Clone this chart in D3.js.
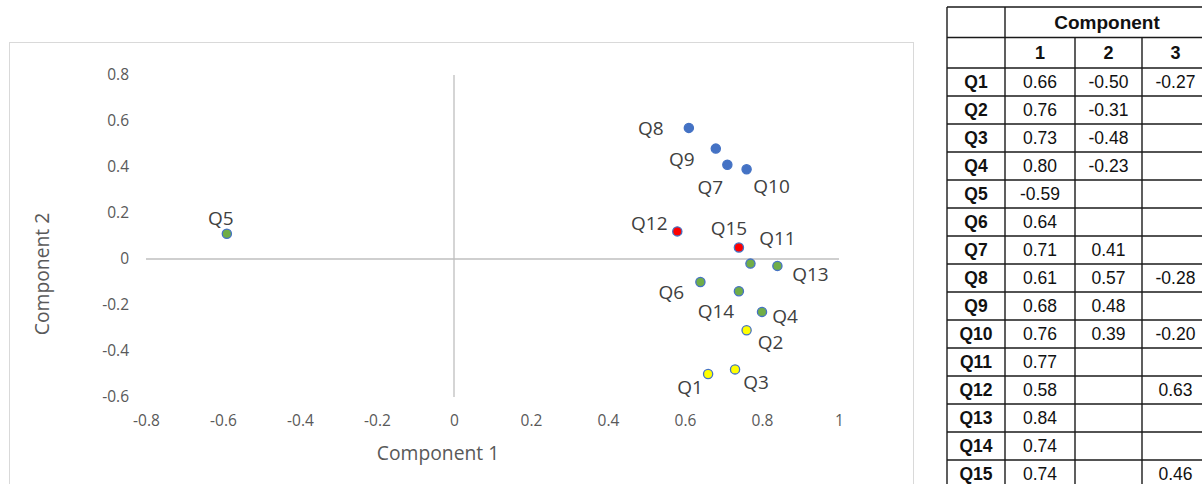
<!DOCTYPE html>
<html>
<head>
<meta charset="utf-8">
<script src="https://cdn.jsdelivr.net/npm/d3@7"></script>
<style>
  body { margin: 0; background: #fff; }
  svg { display: block; }
</style>
</head>
<body>
<svg id="chart" width="1202" height="484"></svg>
<script>
// points on the plot (component 1, component 2)
const names = ["Q1", "Q2", "Q3", "Q4", "Q5", "Q6", "Q7", "Q8", "Q9", "Q10", "Q11", "Q12", "Q13", "Q14", "Q15"];
const comp1 = [0.66, 0.76, 0.73, 0.80, -0.59, 0.64, 0.71, 0.61, 0.68, 0.76, 0.77, 0.58, 0.84, 0.74, 0.74];
const comp2 = [-0.50, -0.31, -0.48, -0.23, 0.11, -0.10, 0.41, 0.57, 0.48, 0.39, -0.02, 0.12, -0.03, -0.14, 0.05];
const groups = ["yellow", "yellow", "yellow", "green", "green", "green", "blue", "blue", "blue", "blue", "green", "red", "green", "green", "red"];

const xTicks = [-0.8, -0.6, -0.4, -0.2, 0, 0.2, 0.4, 0.6, 0.8, 1];
const yTicks = [-0.6, -0.4, -0.2, 0, 0.2, 0.4, 0.6, 0.8];

// loadings table
const tableHead = ["", "1", "2", "3"];
const tableRows = [
  ["Q1", "0.66", "-0.50", "-0.27"],
  ["Q2", "0.76", "-0.31", ""],
  ["Q3", "0.73", "-0.48", ""],
  ["Q4", "0.80", "-0.23", ""],
  ["Q5", "-0.59", "", ""],
  ["Q6", "0.64", "", ""],
  ["Q7", "0.71", "0.41", ""],
  ["Q8", "0.61", "0.57", "-0.28"],
  ["Q9", "0.68", "0.48", ""],
  ["Q10", "0.76", "0.39", "-0.20"],
  ["Q11", "0.77", "", ""],
  ["Q12", "0.58", "", "0.63"],
  ["Q13", "0.84", "", ""],
  ["Q14", "0.74", "", ""],
  ["Q15", "0.74", "", "0.46"]
];

const fills = { blue: "#4472C4", green: "#70AD47", yellow: "#FFFF00", red: "#FF0000" };

// where each data label sits relative to its marker
const labelOffset = {
  Q1: [-18, 13], Q2: [24, 12], Q3: [21, 13], Q4: [23, 4], Q5: [-6, -16],
  Q6: [-29, 10], Q7: [-17, 22], Q8: [-38, 0], Q9: [-34, 11], Q10: [25, 17],
  Q11: [27, -25], Q12: [-28, -8], Q13: [33, 8], Q14: [-23, 20], Q15: [-10, -19]
};

const points = names.map((n, i) => ({ name: n, c1: comp1[i], c2: comp2[i], group: groups[i] }));

const svg = d3.select("#chart");
const font = "'Open Sans', sans-serif";

// chart frame
svg.append("rect")
  .attr("x", 9.5).attr("y", 42.5)
  .attr("width", 904).attr("height", 460)
  .attr("fill", "none")
  .attr("stroke", "#d9d9d9");

const x = d3.scaleLinear().domain([-0.8, 1]).range([146, 839]);
const y = d3.scaleLinear().domain([-0.6, 0.8]).range([397, 75]);

const fmt = d => d === 0 ? "0" : String(+d.toFixed(1));

// Y axis labels
svg.append("g")
  .attr("transform", `translate(${x(-0.8)},0)`)
  .call(d3.axisLeft(y).tickValues(yTicks).tickFormat(fmt).tickSize(0).tickPadding(17))
  .call(g => g.select(".domain").remove())
  .selectAll("text")
  .style("font-family", font)
  .style("font-size", "15.5px")
  .attr("fill", "#595959");

// X axis labels
svg.append("g")
  .attr("transform", `translate(0,${y(-0.6)})`)
  .call(d3.axisBottom(x).tickValues(xTicks).tickFormat(fmt).tickSize(0).tickPadding(18))
  .call(g => g.select(".domain").remove())
  .selectAll("text")
  .style("font-family", font)
  .style("font-size", "15.5px")
  .attr("fill", "#595959");

// zero lines
svg.append("line")
  .attr("x1", x(-0.8)).attr("x2", x(1))
  .attr("y1", y(0)).attr("y2", y(0))
  .attr("stroke", "#bfbfbf").attr("stroke-width", 1.3);

svg.append("line")
  .attr("x1", x(0)).attr("x2", x(0))
  .attr("y1", y(0.8)).attr("y2", y(-0.6))
  .attr("stroke", "#bfbfbf").attr("stroke-width", 1.3);

// axis titles
svg.append("text")
  .attr("x", 438).attr("y", 460)
  .attr("text-anchor", "middle")
  .style("font-family", font).style("font-size", "19.3px")
  .attr("fill", "#595959")
  .text("Component 1");

svg.append("text")
  .attr("transform", "translate(49,274) rotate(-90)")
  .attr("text-anchor", "middle")
  .style("font-family", font).style("font-size", "19.3px")
  .attr("fill", "#595959")
  .text("Component 2");

// markers
svg.append("g")
  .selectAll("circle")
  .data(points)
  .join("circle")
  .attr("cx", d => x(d.c1))
  .attr("cy", d => y(d.c2))
  .attr("r", 4.6)
  .attr("fill", d => fills[d.group])
  .attr("stroke", "#4472C4")
  .attr("stroke-width", 1.3);

// data labels
svg.append("g")
  .selectAll("text")
  .data(points)
  .join("text")
  .attr("x", d => x(d.c1) + labelOffset[d.name][0])
  .attr("y", d => y(d.c2) + labelOffset[d.name][1])
  .attr("dy", "0.36em")
  .attr("text-anchor", "middle")
  .style("font-family", font).style("font-size", "19px")
  .attr("fill", "#404040")
  .text(d => d.name);

// table
const colEdges = [947, 1005, 1075, 1142, 1209];
const headH = 30.5, rowH = 28.0, tableTop = 7;
const rowEdges = [tableTop, tableTop + headH, tableTop + 2 * headH];
tableRows.forEach((r, i) => rowEdges.push(tableTop + 2 * headH + (i + 1) * rowH));

const tbl = svg.append("g");
const tfont = "'Liberation Sans', Arial, sans-serif";

// horizontal lines
tbl.selectAll("line.h")
  .data(rowEdges)
  .join("line")
  .attr("class", "h")
  .attr("x1", colEdges[0]).attr("x2", colEdges[4])
  .attr("y1", d => d).attr("y2", d => d)
  .attr("stroke", "#1a1a1a").attr("stroke-width", 1.4);

// vertical lines (first separator spans the whole height, others start below "Component")
tbl.selectAll("line.v")
  .data(colEdges)
  .join("line")
  .attr("class", "v")
  .attr("x1", d => d).attr("x2", d => d)
  .attr("y1", (d, i) => (i === 0 || i === 1 || i === 4) ? rowEdges[0] : rowEdges[1])
  .attr("y2", rowEdges[rowEdges.length - 1])
  .attr("stroke", "#1a1a1a").attr("stroke-width", 1.4);

tbl.append("text")
  .attr("x", (colEdges[1] + colEdges[4]) / 2)
  .attr("y", (rowEdges[0] + rowEdges[1]) / 2 + 6.8)
  .attr("text-anchor", "middle")
  .style("font-family", tfont).style("font-size", "19px").style("font-weight", "bold")
  .attr("fill", "#111")
  .text("Component");

tbl.selectAll("text.head")
  .data(tableHead)
  .join("text")
  .attr("class", "head")
  .attr("x", (d, i) => (colEdges[i] + colEdges[i + 1]) / 2)
  .attr("y", (rowEdges[1] + rowEdges[2]) / 2 + 6.5)
  .attr("text-anchor", "middle")
  .style("font-family", tfont).style("font-size", "18px").style("font-weight", "bold")
  .attr("fill", "#111")
  .text(d => d);

tableRows.forEach((r, ri) => {
  tbl.selectAll(null)
    .data(r)
    .join("text")
    .attr("x", (d, i) => (colEdges[i] + colEdges[i + 1]) / 2)
    .attr("y", (rowEdges[ri + 2] + rowEdges[ri + 3]) / 2 + 6)
    .attr("text-anchor", "middle")
    .style("font-family", tfont).style("font-size", "17.5px")
    .style("font-weight", (d, i) => i === 0 ? "bold" : "normal")
    .attr("fill", "#111")
    .text(d => d);
});
</script>
</body>
</html>
